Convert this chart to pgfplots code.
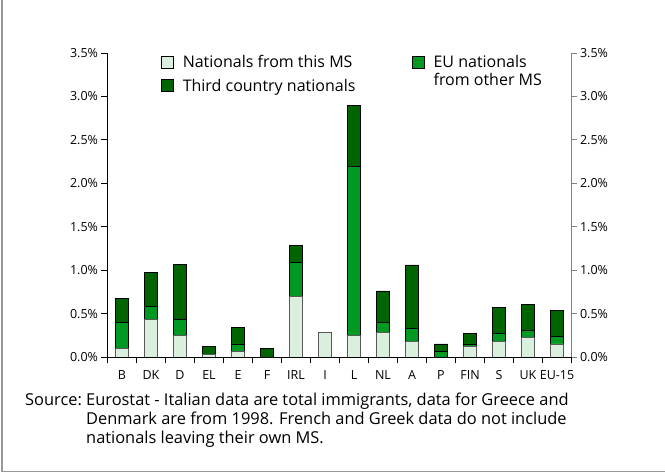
\documentclass[border=0pt]{standalone}
\usepackage{fontspec}
\setmainfont{Open Sans}
\usepackage{pgfplots}
\usepackage{pgfplotstable}
\pgfplotsset{compat=1.18}
\definecolor{natl}{HTML}{DAEFDE}
\definecolor{eumid}{HTML}{009A22}
\definecolor{third}{HTML}{006400}

% share of population, % (nationals / EU nationals / third country)
\pgfplotstableread{
x nat eu tcn
0 0.10 0.30 0.27
1 0.43 0.15 0.39
2 0.25 0.18 0.64
3 0.03 0.00 0.09
4 0.06 0.09 0.19
5 0.00 0.00 0.10
6 0.70 0.39 0.19
7 0.28 0.00 0.00
8 0.25 1.94 0.71
9 0.28 0.12 0.36
10 0.18 0.15 0.73
11 0.00 0.06 0.09
12 0.12 0.03 0.12
13 0.18 0.09 0.30
14 0.22 0.09 0.30
15 0.15 0.09 0.30
}\data

\pgfplotsset{
  boxlegend/.style={legend image code/.code={%
    \draw[##1,draw=black,line width=0.6pt] (0pt,-6pt) rectangle (12pt,6pt);
    \path (19pt,0pt);}},
}

\begin{document}
\begin{tikzpicture}[x=1pt,y=1pt]
\path[use as bounding box] (0,0) rectangle (665,473);
\draw[gray!80,line width=1.5pt] (2,473) -- (2,1.5) -- (665,1.5);

\begin{axis}[
    at={(107.5pt,116pt)}, anchor=south west,
    scale only axis, width=464pt, height=304pt,
    xmin=-0.5, xmax=15.5, ymin=0, ymax=3.5,
    ybar stacked, bar width=13pt,
    axis x line*=bottom, axis y line*=left,
    axis line style={-, black, line width=0.8pt},
    tick align=outside,
    xtick={0,...,15},
    xticklabels={B,DK,D,EL,E,F,IRL,I,L,NL,A,P,FIN,S,UK,EU-15},
    major x tick style={draw=none},
    minor xtick={-0.5,0.5,...,15.5},
    minor tick length=6pt,
    minor x tick style={black, line width=0.8pt},
    major tick length=6pt,
    ytick={0,0.5,...,3.5},
    y tick style={black, line width=0.8pt},
    yticklabel={\pgfmathprintnumber[fixed,fixed zerofill,precision=1]{\tick}\%},
    /pgf/number format/assume math mode=true,
    tick label style={font=\fontsize{12.5}{14}\selectfont},
    xticklabel style={yshift=-4pt},
    legend style={draw=none, fill=none, at={(0.115,1.0)}, anchor=north west,
      font=\fontsize{16}{19}\selectfont, row sep=6pt, inner sep=0pt},
    legend cell align=left,
    boxlegend,
]
\addplot[fill=natl, draw=black!65, line width=0.8pt] table[x=x,y=nat]{\data};
\addplot[fill=eumid, draw=black, line width=0.8pt, forget plot] table[x=x,y=eu]{\data};
\addplot[fill=third, draw=black, line width=0.8pt] table[x=x,y=tcn]{\data};
\legend{Nationals from this MS, Third country nationals}
\end{axis}

\begin{axis}[
    at={(107.5pt,116pt)}, anchor=south west,
    scale only axis, width=464pt, height=304pt,
    xmin=-0.5, xmax=15.5, ymin=0, ymax=3.5,
    axis x line=none, axis y line*=right,
    axis line style={-, gray, line width=0.8pt},
    tick align=outside,
    major tick length=5pt,
    ytick={0,0.5,...,3.5},
    y tick style={gray, line width=0.8pt},
    yticklabel={\pgfmathprintnumber[fixed,fixed zerofill,precision=1]{\tick}\%},
    /pgf/number format/assume math mode=true,
    tick label style={font=\fontsize{12.5}{14}\selectfont},
    legend style={draw=none, fill=none, at={(0.656,1.0)}, anchor=north west,
      font=\fontsize{16}{19}\selectfont, row sep=0pt, inner sep=0pt},
    legend cell align=left,
    boxlegend,
]
\addlegendimage{fill=eumid}
\addlegendentry{EU nationals}
\addlegendimage{empty legend}
\addlegendentry{from other MS}
\end{axis}

\begin{scope}[every node/.style={anchor=base west, inner sep=0pt, font=\fontsize{16.4}{19}\selectfont}]
\node at (25,67) {Source:};
\node at (86,67) {Eurostat - Italian data are total immigrants, data for Greece and};
\node at (86,48) {Denmark are from 1998. French and Greek data do not include};
\node at (86,29) {nationals leaving their own MS.};
\end{scope}
\end{tikzpicture}
\end{document}
